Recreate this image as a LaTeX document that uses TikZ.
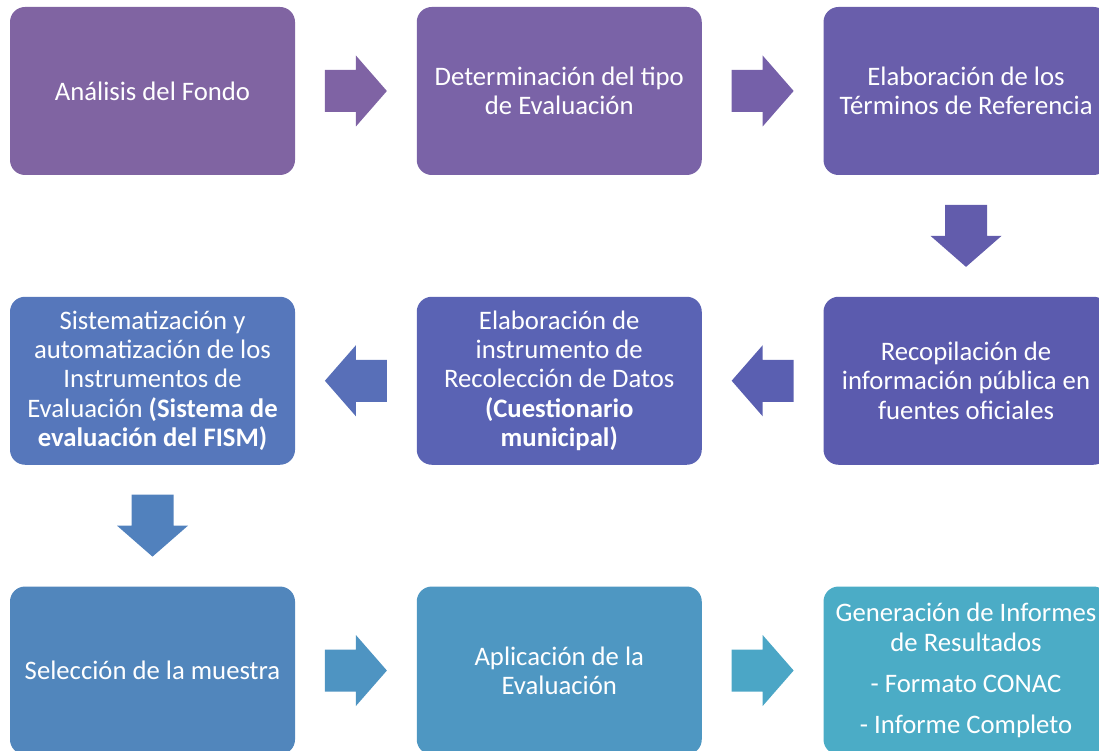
\documentclass[tikz,border=0pt]{standalone}
\usepackage{fontspec}
\setmainfont{Carlito}
\usetikzlibrary{positioning,calc}

%box colours
\definecolor{stepA}{HTML}{8064A2}
\definecolor{stepB}{HTML}{7A63A7}
\definecolor{stepC}{HTML}{695EAB}
\definecolor{stepD}{HTML}{5B5BAE}
\definecolor{stepE}{HTML}{5A63B4}
\definecolor{stepF}{HTML}{5677BB}
\definecolor{stepG}{HTML}{5186BC}
\definecolor{stepH}{HTML}{4E97C2}
\definecolor{stepI}{HTML}{4BACC6}
%arrow colours
\definecolor{arrAB}{HTML}{7F63A4}
\definecolor{arrBC}{HTML}{7560A9}
\definecolor{arrCD}{HTML}{625CAC}
\definecolor{arrDE}{HTML}{5A5FB1}
\definecolor{arrEF}{HTML}{586FB8}
\definecolor{arrFG}{HTML}{5181BD}
\definecolor{arrGH}{HTML}{4E94C2}
\definecolor{arrHI}{HTML}{4BA6C6}

\tikzset{
  stepbox/.style={rounded corners=0.375cm, minimum width=7.125cm, minimum height=4.2cm,
    inner sep=0pt, text=white, align=center, font=\fontsize{19}{20.8}\selectfont},
  blockarrow/.pic={\fill (-0.775,-0.525) -- (0,-0.525) -- (0,-0.8875) -- (0.775,0)
    -- (0,0.8875) -- (0,0.525) -- (-0.775,0.525) -- cycle;}
}

\begin{document}
\begin{tikzpicture}
	\useasboundingbox (0,0) rectangle (27.475,-18.775);

	%row 1
	\node[stepbox,fill=stepA] (fondo) at (3.8125,-2.275) {Análisis del Fondo};
	\node[stepbox,fill=stepB,right=3.03cm of fondo] (tipo) {Determinación del tipo\\de Evaluación};
	\node[stepbox,fill=stepC,right=3.03cm of tipo] (terminos) {Elaboración de los\\Términos de Referencia};

	%row 2
	\node[stepbox,fill=stepD,below=3.03cm of terminos] (recopilacion) {Recopilación de\\información pública en\\fuentes oficiales};
	\node[stepbox,fill=stepE,left=3.03cm of recopilacion] (instrumento) {Elaboración de\\instrumento de\\Recolección de Datos\\\textbf{(Cuestionario}\\\textbf{municipal)}};
	\node[stepbox,fill=stepF,left=3.03cm of instrumento] (sistema) {Sistematización y\\automatización de los\\Instrumentos de\\Evaluación \textbf{(Sistema de}\\\textbf{evaluación del FISM)}};

	%row 3
	\node[stepbox,fill=stepG,below=3.03cm of sistema] (muestra) {Selección de la muestra};
	\node[stepbox,fill=stepH,right=3.03cm of muestra] (aplicacion) {Aplicación de la\\Evaluación};
	\node[stepbox,fill=stepI,right=3.03cm of aplicacion] (informes) {Generación de Informes\\de Resultados\\[0.3cm]- Formato CONAC\\[0.3cm]- Informe Completo};

	%arrows
	\pic[fill=arrAB] at ($(fondo.east)!0.5!(tipo.west)$) {blockarrow}; %1 to 2
	\pic[fill=arrBC] at ($(tipo.east)!0.5!(terminos.west)$) {blockarrow}; %2 to 3
	\pic[fill=arrCD,rotate=-90] at ($(terminos.south)!0.5!(recopilacion.north)$) {blockarrow}; %3 to 4
	\pic[fill=arrDE,rotate=180] at ($(recopilacion.west)!0.5!(instrumento.east)$) {blockarrow}; %4 to 5
	\pic[fill=arrEF,rotate=180] at ($(instrumento.west)!0.5!(sistema.east)$) {blockarrow}; %5 to 6
	\pic[fill=arrFG,rotate=-90] at ($(sistema.south)!0.5!(muestra.north)$) {blockarrow}; %6 to 7
	\pic[fill=arrGH] at ($(muestra.east)!0.5!(aplicacion.west)$) {blockarrow}; %7 to 8
	\pic[fill=arrHI] at ($(aplicacion.east)!0.5!(informes.west)$) {blockarrow}; %8 to 9
\end{tikzpicture}
\end{document}
